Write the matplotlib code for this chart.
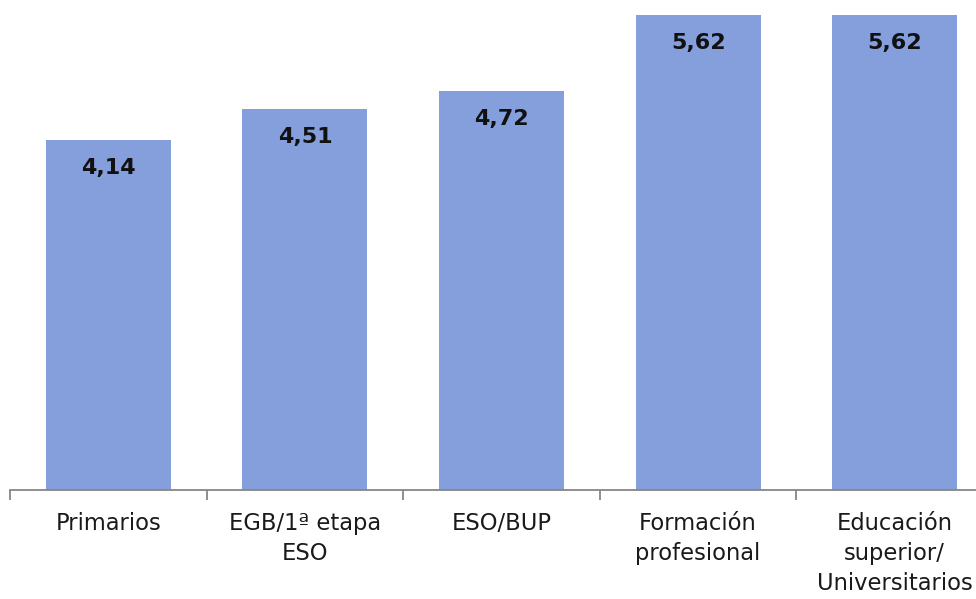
import matplotlib
matplotlib.use("Agg")
import matplotlib.pyplot as plt

categories = ["Primarios", "EGB/1ª etapa\nESO", "ESO/BUP", "Formación\nprofesional",
              "Educación\nsuperior/\nUniversitarios"]
values = [4.14, 4.51, 4.72, 5.62, 5.62]
value_labels = ["4,14", "4,51", "4,72", "5,62", "5,62"]

BAR = "#859FDD"
AXIS = "#868686"

fig = plt.figure(figsize=(9.76, 5.99), dpi=100)
# axes runs a bit past the right edge, as in the original
ax = fig.add_axes([10 / 976, 109 / 599, 983 / 976, 490 / 599])

x = range(len(categories))
bars = ax.bar(x, values, width=0.636, color=BAR, zorder=2)
for b, lab in zip(bars, value_labels):
    ax.text(b.get_x() + b.get_width() / 2, b.get_height() - 0.33, lab,
            ha="center", va="center", fontsize=16, weight="bold", color="#111111")

ax.set_xlim(-0.5, len(categories) - 0.5)
ax.set_ylim(0, 5.8)
ax.set_yticks([])
for s in ("top", "right", "left"):
    ax.spines[s].set_visible(False)
ax.spines["bottom"].set_color(AXIS)
ax.spines["bottom"].set_linewidth(1.3)

# ticks sit between categories
ax.set_xticks([i - 0.5 for i in range(len(categories) + 1)], minor=False)
ax.set_xticklabels([])
ax.tick_params(axis="x", which="major", direction="out", length=7, width=1.3, color=AXIS)
ax.set_xticks(list(x), minor=True)
ax.set_xticklabels(categories, minor=True, fontsize=16.3, color="#1a1a1a", linespacing=1.38)
ax.tick_params(axis="x", which="minor", length=0, pad=16)
# last label hugs the right edge; nudge it in a touch
ax.get_xticklabels(minor=True)[-1].set_x(3.99)

fig.savefig("out.png", dpi=100)
